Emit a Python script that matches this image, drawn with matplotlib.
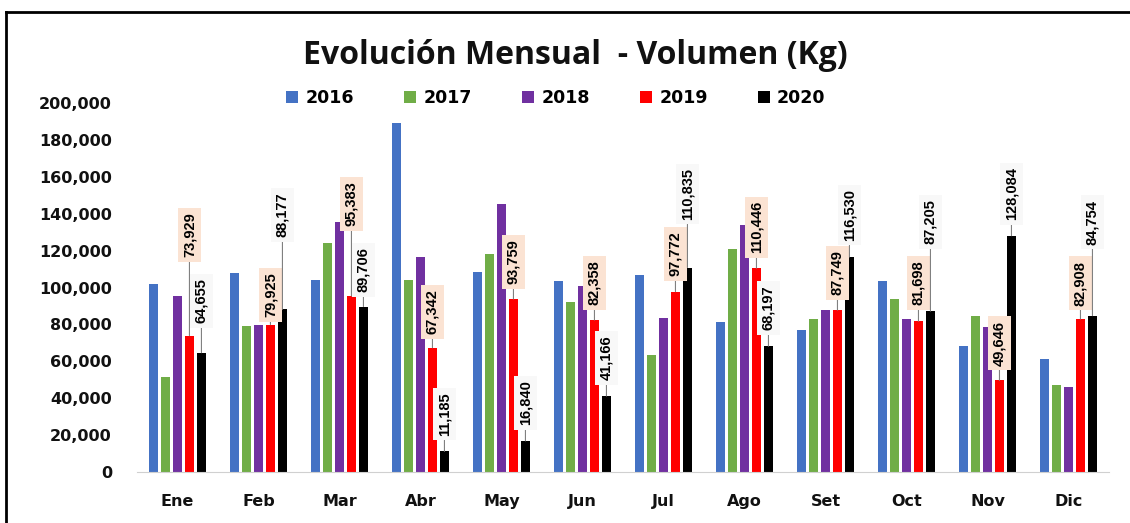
import numpy as np
import matplotlib
matplotlib.use("Agg")
import matplotlib.pyplot as plt
from matplotlib.lines import Line2D

# datos
meses = ["Ene", "Feb", "Mar", "Abr", "May", "Jun", "Jul", "Ago", "Set", "Oct", "Nov", "Dic"]
anios = ["2016", "2017", "2018", "2019", "2020"]
v2016 = [102000, 108000, 104000, 189000, 108400, 103500, 107000, 81300, 77000, 103500, 68300, 61500]
v2017 = [51500, 79000, 124000, 104000, 118000, 92000, 63400, 121000, 83000, 93800, 84500, 47000]
v2018 = [95400, 79700, 135500, 116500, 145000, 101000, 83500, 134000, 88000, 83000, 78600, 46000]
v2019 = [73929, 79925, 95383, 67342, 93759, 82358, 97772, 110446, 87749, 81698, 49646, 82908]
v2020 = [64655, 88177, 89706, 11185, 16840, 41166, 110835, 68197, 116530, 87205, 128084, 84754]

# altura (en Kg) donde se ubica el centro de cada etiqueta
pos_lbl19 = [128500, 95900, 145300, 86700, 113800, 102400, 118200, 132800, 107900, 102400, 69900, 102400]
pos_lbl20 = [92700, 139300, 109500, 31400, 37400, 61800, 150700, 88900, 139300, 135500, 150700, 135500]

colores = ["#4472C4", "#70AD47", "#7030A0", "#FF0000", "#000000"]
series = [v2016, v2017, v2018, v2019, v2020]

fig = plt.figure(figsize=(11.30, 5.23), dpi=100)
ax = fig.add_axes([0.1212, 0.0975, 0.8602, 0.7055])

x = np.arange(len(meses))
paso = 0.148
ancho = 0.118
for j, (vals, col) in enumerate(zip(series, colores)):
    ax.bar(x + (j - 2) * paso, vals, width=ancho, color=col, label=anios[j], zorder=2)

for i in range(len(meses)):
    for vals, pos, fondo, j in [(v2019, pos_lbl19, "#FBE3D3", 3), (v2020, pos_lbl20, "#F8F8F8", 4)]:
        xb = i + (j - 2) * paso
        ax.annotate(f"{vals[i]:,}", xy=(xb, vals[i]), xytext=(xb, pos[i]),
                    rotation=90, ha="center", va="center", fontsize=10.5,
                    fontweight="bold", family="Liberation Sans", zorder=5,
                    bbox=dict(boxstyle="square,pad=0.3", fc=fondo, ec="none"),
                    arrowprops=dict(arrowstyle="-", color="#808080", lw=0.8,
                                    shrinkA=0, shrinkB=0))

ax.set_xlim(-0.5, len(meses) - 0.5)
ax.set_ylim(0, 200000)
ax.set_yticks(np.arange(0, 200001, 20000))
ax.set_yticklabels([f"{v:,}" for v in range(0, 200001, 20000)])
ax.set_xticks(x)
ax.set_xticklabels(meses)
for s in ["top", "right", "left"]:
    ax.spines[s].set_visible(False)
ax.spines["bottom"].set_color("#D0D0D0")
ax.tick_params(length=0, labelsize=11.5, colors="#111111")
ax.tick_params(axis="y", pad=18)
ax.tick_params(axis="x", pad=16)
for t in ax.get_xticklabels() + ax.get_yticklabels():
    t.set_fontweight("bold")

fig.text(0.509, 0.893, "Evolución Mensual  - Volumen (Kg)", ha="center", va="center",
         fontsize=23, fontweight="bold", family="Open Sans", color="#111111")

fig.legend(loc="center", bbox_to_anchor=(0.492, 0.8126), ncol=5, frameon=False,
           prop={"weight": "bold", "size": 12.5}, handlelength=0.7, handleheight=0.7,
           handletextpad=0.4, columnspacing=2.9)

# marco del grafico
fig.add_artist(Line2D([0.005, 0.005], [0, 0.977], transform=fig.transFigure, color="black", lw=2))
fig.add_artist(Line2D([0.005, 1.0], [0.977, 0.977], transform=fig.transFigure, color="black", lw=2))

fig.savefig("out.png", dpi=100)
